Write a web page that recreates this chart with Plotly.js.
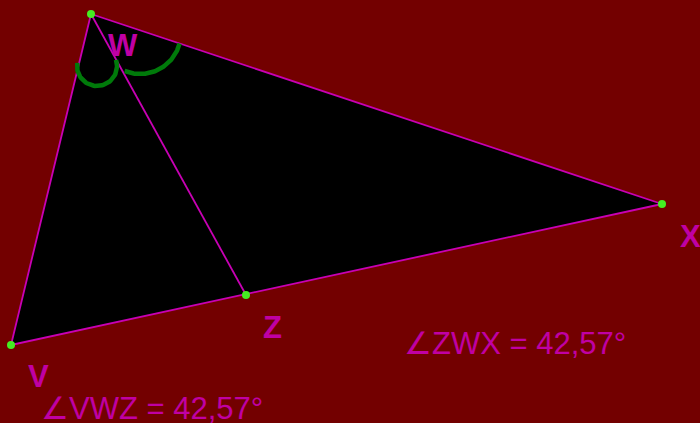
<!DOCTYPE html>
<html><head><meta charset="utf-8">
<script src="https://cdn.plot.ly/plotly-3.0.1.min.js"></script>
<style>html,body{margin:0;padding:0;background:#730000;}#chart{width:700px;height:423px;}</style>
</head><body><div id="chart"></div>
<script>
// Point names and coordinates (figure units)
const pointNames = ["W", "X", "V", "Z"];
const pointX = [91, 662, 11, 246];
const pointY = [14, 204, 345, 295];
// Label positions for the points
const labelX = [123, 690, 38, 272];
const labelY = [45, 236, 376, 327];
// Angle marks: centre x, centre y, radius, start angle, end angle (degrees)
const arcCx = [97, 140];
const arcCy = [66, 33];
const arcR = [20, 41];
const arcStart = [189, 112];
const arcEnd = [-18, 15];
// Angle value texts
const angleTexts = ["∠VWZ = 42,57°", "∠ZWX = 42,57°"];
const angleTextX = [39, 402];
const angleTextY = [408, 343];

const P = {};
pointNames.forEach((n, i) => P[n] = [pointX[i], pointY[i]]);

const lineColor = "#c800b4";
const textColor = "#c000a4";

const traces = [];
// Triangle W-X-V filled
const tri = ["W", "X", "V", "W"];
traces.push({
  x: tri.map(n => P[n][0]), y: tri.map(n => P[n][1]),
  mode: "lines", fill: "toself", fillcolor: "#000000",
  line: {color: lineColor, width: 1.8}, hoverinfo: "skip"
});
// Segment W-Z
traces.push({
  x: [P.W[0], P.Z[0]], y: [P.W[1], P.Z[1]],
  mode: "lines", line: {color: lineColor, width: 1.8}, hoverinfo: "skip"
});
// Arcs
for (let k = 0; k < arcCx.length; k++) {
  const xs = [], ys = [];
  const n = 60;
  for (let j = 0; j <= n; j++) {
    const t = (arcStart[k] + (arcEnd[k] - arcStart[k]) * j / n) * Math.PI / 180;
    xs.push(arcCx[k] + arcR[k] * Math.cos(t));
    ys.push(arcCy[k] + arcR[k] * Math.sin(t));
  }
  traces.push({x: xs, y: ys, mode: "lines", line: {color: "#007a0a", width: 4.5}, hoverinfo: "skip"});
}
// Points
traces.push({
  x: pointX, y: pointY, mode: "markers",
  marker: {color: "#44ee22", size: 8, line: {width: 0}}, hoverinfo: "skip"
});

const annotations = [];
pointNames.forEach((n, i) => annotations.push({
  x: labelX[i], y: labelY[i], xref: "x", yref: "y", text: "<b>" + n + "</b>",
  showarrow: false, xanchor: "center", yanchor: "middle",
  font: {family: "Liberation Sans, Arial, sans-serif", size: 31, color: textColor}
}));
angleTexts.forEach((t, i) => annotations.push({
  x: angleTextX[i], y: angleTextY[i], xref: "x", yref: "y", text: t,
  showarrow: false, xanchor: "left", yanchor: "middle",
  font: {family: "Liberation Sans, Arial, sans-serif", size: 31, color: textColor}
}));

const layout = {
  width: 700, height: 423,
  margin: {l: 0, r: 0, t: 0, b: 0},
  paper_bgcolor: "#730000", plot_bgcolor: "#730000",
  showlegend: false,
  xaxis: {range: [0, 700], visible: false, fixedrange: true},
  yaxis: {range: [423, 0], visible: false, fixedrange: true},
  annotations: annotations
};
Plotly.newPlot("chart", traces, layout, {displayModeBar: false, staticPlot: true});
</script></body></html>
